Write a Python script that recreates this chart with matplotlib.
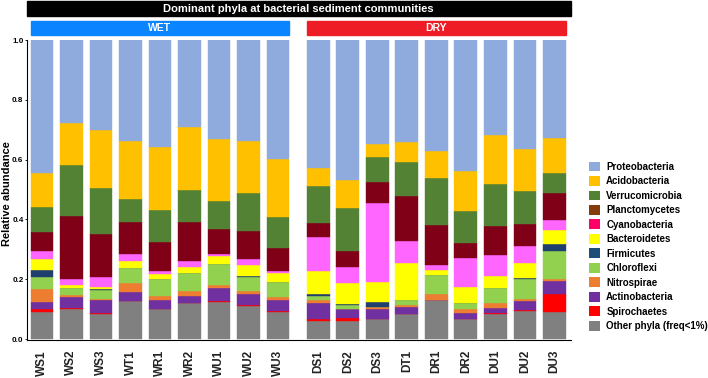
import matplotlib
matplotlib.use("Agg")
import matplotlib.pyplot as plt
import matplotlib.transforms as mtransforms
from matplotlib.patches import Rectangle, Patch

plt.rcParams["font.family"] = ["Liberation Sans", "DejaVu Sans"]

samples = ["WS1", "WS2", "WS3", "WT1", "WR1", "WR2", "WU1", "WU2", "WU3",
           "DS1", "DS2", "DS3", "DT1", "DR1", "DR2", "DU1", "DU2", "DU3"]

# relative abundance per phylum, bottom to top of each bar
other = [0.091, 0.101, 0.084, 0.128, 0.099, 0.119, 0.124, 0.111, 0.091,
         0.060, 0.061, 0.066, 0.082, 0.129, 0.066, 0.084, 0.093, 0.091]
spirochaetes = [0.008, 0.003, 0.004, 0.0, 0.0, 0.0, 0.004, 0.002, 0.002,
                0.006, 0.008, 0.002, 0.0, 0.0, 0.0, 0.004, 0.005, 0.059]
actinobacteria = [0.024, 0.035, 0.043, 0.030, 0.031, 0.025, 0.041, 0.036, 0.038,
                  0.053, 0.030, 0.034, 0.026, 0.0, 0.021, 0.016, 0.028, 0.044]
nitrospirae = [0.043, 0.007, 0.003, 0.030, 0.013, 0.015, 0.012, 0.012, 0.009,
               0.011, 0.002, 0.004, 0.005, 0.023, 0.013, 0.017, 0.008, 0.006]
chloroflexi = [0.042, 0.023, 0.029, 0.050, 0.058, 0.063, 0.069, 0.047, 0.050,
               0.013, 0.013, 0.002, 0.017, 0.061, 0.020, 0.049, 0.067, 0.093]
firmicutes = [0.024, 0.0, 0.004, 0.0, 0.0, 0.0, 0.0, 0.003, 0.002,
              0.007, 0.003, 0.016, 0.0, 0.0, 0.0, 0.0, 0.004, 0.025]
bacteroidetes = [0.035, 0.011, 0.007, 0.024, 0.018, 0.018, 0.027, 0.037, 0.029,
                 0.078, 0.069, 0.066, 0.123, 0.017, 0.053, 0.041, 0.048, 0.046]
cyanobacteria = [0.027, 0.021, 0.035, 0.021, 0.009, 0.020, 0.006, 0.019, 0.008,
                 0.113, 0.056, 0.264, 0.076, 0.017, 0.099, 0.069, 0.057, 0.035]
planctomycetes = [0.065, 0.209, 0.142, 0.110, 0.095, 0.130, 0.085, 0.093, 0.077,
                  0.047, 0.052, 0.072, 0.150, 0.135, 0.049, 0.097, 0.075, 0.090]
verrucomicrobia = [0.081, 0.172, 0.153, 0.075, 0.107, 0.109, 0.092, 0.130, 0.102,
                   0.125, 0.143, 0.084, 0.114, 0.156, 0.106, 0.141, 0.110, 0.065]
acidobacteria = [0.116, 0.141, 0.194, 0.193, 0.212, 0.209, 0.209, 0.171, 0.194,
                 0.060, 0.095, 0.043, 0.066, 0.090, 0.135, 0.164, 0.142, 0.120]
proteobacteria = [0.444, 0.277, 0.302, 0.339, 0.358, 0.292, 0.331, 0.339, 0.398,
                  0.427, 0.468, 0.347, 0.341, 0.372, 0.438, 0.318, 0.362, 0.326]

# (legend name, values, bar colour, legend colour)
stack = [
    ("Other phyla (freq<1%)", other, "#808080", "#808080"),
    ("Spirochaetes", spirochaetes, "#FF0000", "#FF0000"),
    ("Actinobacteria", actinobacteria, "#7030A0", "#7030A0"),
    ("Nitrospirae", nitrospirae, "#ED7D31", "#ED7D31"),
    ("Chloroflexi", chloroflexi, "#92D050", "#92D050"),
    ("Firmicutes", firmicutes, "#1F3F6E", "#1F4E79"),
    ("Bacteroidetes", bacteroidetes, "#FFFF00", "#FFFF00"),
    ("Cyanobacteria", cyanobacteria, "#FF66FF", "#FF0066"),
    ("Planctomycetes", planctomycetes, "#800018", "#843C0C"),
    ("Verrucomicrobia", verrucomicrobia, "#548235", "#548235"),
    ("Acidobacteria", acidobacteria, "#FFC000", "#FFC000"),
    ("Proteobacteria", proteobacteria, "#8FAADC", "#8FAADC"),
]

gap = 0.36
xpos = [i if i < 9 else i + gap for i in range(len(samples))]
width = 0.77

fig = plt.figure(figsize=(7.08, 3.78), dpi=100)
ax = fig.add_axes([0.038, 0.1, 0.768, 0.794])

bottom = [0.0] * len(samples)
for name, vals, col, _ in stack:
    ax.bar(xpos, vals, width, bottom=bottom, color=col, edgecolor=col, linewidth=0.3)
    bottom = [b + v for b, v in zip(bottom, vals)]

ax.set_xlim(-0.51, xpos[-1] + 0.55)
ax.set_ylim(-0.004, 1.0)
ax.set_yticks([0.0, 0.2, 0.4, 0.6, 0.8, 1.0])
ax.set_yticklabels(["0.0", "0.2", "0.4", "0.6", "0.8", "1.0"], fontsize=5.8, fontweight="bold")
ax.set_xticks(xpos)
ax.set_xticklabels(samples, rotation=90, fontsize=8.5, fontweight="bold", color="#222222")
ax.tick_params(axis="x", length=0, pad=7)
ax.tick_params(axis="y", length=1.5, width=0.6, pad=1)
ax.spines["top"].set_visible(False)
ax.spines["right"].set_visible(False)
ax.spines["left"].set_linewidth(0.8)
ax.spines["bottom"].set_linewidth(0.8)
ax.set_ylabel("Relative abundance", fontsize=8, fontweight="bold")
ax.yaxis.set_label_coords(-0.0265, 0.49)

# strip headers
trans = mtransforms.blended_transform_factory(ax.transData, ax.transAxes)
ax.add_patch(Rectangle((-0.51, 1.08), xpos[-1] + 0.55 + 0.51, 0.05, transform=trans,
                       color="black", clip_on=False))
ax.text((xpos[-1] + 0.55 - 0.51) / 2, 1.105, "Dominant phyla at bacterial sediment communities",
        transform=trans, ha="center", va="center", color="white", fontsize=8, fontweight="bold")
groups = [("WET", xpos[0], xpos[8], "#0A84FF"), ("DRY", xpos[9], xpos[17], "#EE1C25")]
for label, x0, x1, col in groups:
    ax.add_patch(Rectangle((x0 - width / 2, 1.016), x1 - x0 + width, 0.048, transform=trans,
                           color=col, clip_on=False))
    ax.text((x0 + x1) / 2, 1.04, label, transform=trans, ha="center", va="center",
            color="white", fontsize=7.5, fontweight="bold")

handles = [Patch(facecolor=lc, edgecolor="none", label=name) for name, _, _, lc in stack[::-1]]
fig.legend(handles=handles, loc="upper left", bbox_to_anchor=(0.826, 0.583), frameon=False,
           prop={"weight": "bold", "size": 7}, handlelength=1.15, handleheight=1.15,
           labelspacing=0.45, handletextpad=0.65, borderaxespad=0)

fig.savefig("out.png", dpi=100)
